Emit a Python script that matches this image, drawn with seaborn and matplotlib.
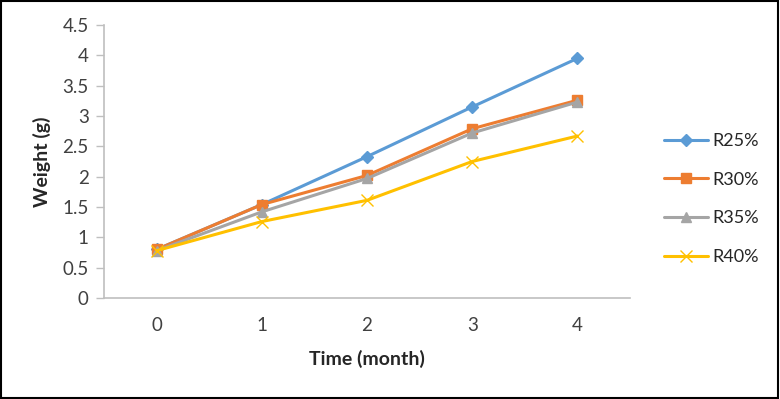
import matplotlib
matplotlib.use("Agg")
import matplotlib.pyplot as plt
import seaborn as sns
import pandas as pd

months = [0, 1, 2, 3, 4]
series_names = ["R25%", "R30%", "R35%", "R40%"]
r25 = [0.80, 1.54, 2.33, 3.15, 3.95]
r30 = [0.80, 1.54, 2.02, 2.79, 3.26]
r35 = [0.78, 1.42, 1.97, 2.72, 3.23]
r40 = [0.78, 1.26, 1.61, 2.25, 2.67]
y_ticks = [0, 0.5, 1, 1.5, 2, 2.5, 3, 3.5, 4, 4.5]
y_tick_labels = ["0", "0.5", "1", "1.5", "2", "2.5", "3", "3.5", "4", "4.5"]

colors = ["#5B9BD5", "#ED7D31", "#A5A5A5", "#FFC000"]
markers = ["D", "s", "^", "x"]
msizes = [6, 7, 7.5, 8]

sns.set_style("white")
plt.rcParams["font.family"] = ["Lato", "DejaVu Sans"]

fig = plt.figure(figsize=(7.8, 3.99), dpi=100)
ax = fig.add_axes([104/780, 1-298/399, (630-104)/780, (298-25)/399])

for name, vals, c, mk, ms in zip(series_names, [r25, r30, r35, r40], colors, markers, msizes):
    df = pd.DataFrame({"Time": months, "Weight": vals})
    sns.lineplot(data=df, x="Time", y="Weight", color=c, marker=mk, markersize=ms,
                 markeredgecolor=c, markeredgewidth=1.0, linewidth=2.2, label=name, ax=ax)

ax.set_xlim(-0.5, 4.5)
ax.set_ylim(0, 4.5)
ax.set_yticks(y_ticks)
ax.set_yticklabels(y_tick_labels)
ax.set_xticks(months)
ax.set_xticklabels([str(m) for m in months])

for s in ["top", "right"]:
    ax.spines[s].set_visible(False)
for s in ["left", "bottom"]:
    ax.spines[s].set_color("#BFBFBF")
    ax.spines[s].set_linewidth(1.2)

ax.tick_params(axis="y", direction="out", length=6, width=1, color="#BFBFBF",
               labelsize=13.5, labelcolor="#404040", pad=5, left=True)
ax.tick_params(axis="x", length=0, labelsize=13.5, labelcolor="#404040", pad=14)

ax.set_xlabel("Time (month)", fontsize=14, fontweight="bold", labelpad=11)
ax.set_ylabel("Weight (g)", fontsize=14, fontweight="bold", labelpad=8)

handles, labels = ax.get_legend_handles_labels()
leg = ax.legend(handles, labels, loc="center left", bbox_to_anchor=(648/780, 1-199/399),
                bbox_transform=fig.transFigure, frameon=False, fontsize=13,
                labelspacing=1.25, handlelength=2.4, handletextpad=0.25)
for t in leg.get_texts():
    t.set_color("#262626")

fig.patches.append(plt.Rectangle((0.001, 0.002), 0.997, 0.996, transform=fig.transFigure,
                                 fill=False, edgecolor="black", linewidth=1.5))

fig.savefig("out.png", dpi=100)
